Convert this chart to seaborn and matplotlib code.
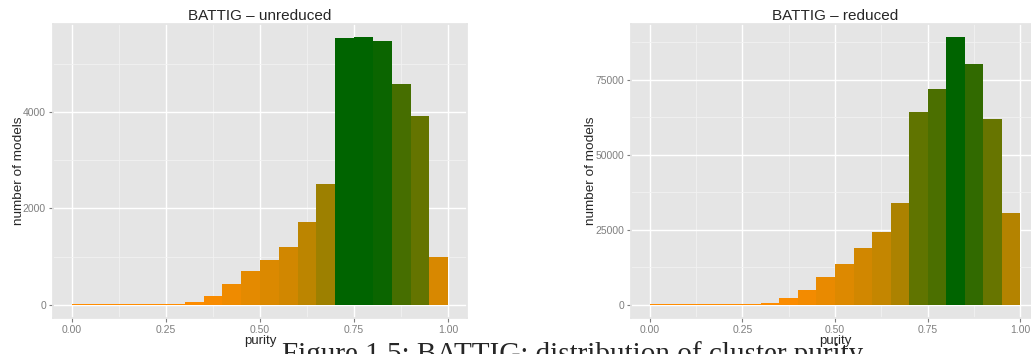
import numpy as np
import pandas as pd
import matplotlib
matplotlib.use('Agg')
import matplotlib.pyplot as plt
from matplotlib.colors import ListedColormap, Normalize, to_rgb
from matplotlib.ticker import MultipleLocator
import seaborn as sns

# histogram bins of purity (width 0.05) and counts
bin_left = [0.00, 0.05, 0.10, 0.15, 0.20, 0.25, 0.30, 0.35, 0.40, 0.45,
            0.50, 0.55, 0.60, 0.65, 0.70, 0.75, 0.80, 0.85, 0.90, 0.95]
unreduced = [3, 3, 4, 5, 6, 8, 60, 190, 420, 690,
             920, 1190, 1715, 2500, 5540, 5560, 5480, 4600, 3915, 1000]
reduced = [50, 60, 80, 100, 150, 250, 700, 2100, 5000, 9300,
           13700, 19000, 24100, 34000, 64100, 71800, 89100, 80100, 61750, 30700]
titles = ['BATTIG \u2013 unreduced', 'BATTIG \u2013 reduced']
y_major = [2000, 25000]
caption = 'Figure 1.5: BATTIG: distribution of cluster purity'


# gradient from darkorange to darkgreen, interpolated in Lab space like ggplot
def rgb_to_lab(rgb):
    c = np.array(rgb)
    c = np.where(c > 0.04045, ((c + 0.055) / 1.055) ** 2.4, c / 12.92)
    m = np.array([[0.4124, 0.3576, 0.1805],
                  [0.2126, 0.7152, 0.0722],
                  [0.0193, 0.1192, 0.9505]])
    xyz = m @ c / np.array([0.95047, 1.0, 1.08883])
    f = np.where(xyz > 0.008856, np.cbrt(xyz), 7.787 * xyz + 16 / 116)
    return np.array([116 * f[1] - 16, 500 * (f[0] - f[1]), 200 * (f[1] - f[2])])


def lab_to_rgb(lab):
    fy = (lab[0] + 16) / 116
    f = np.array([fy + lab[1] / 500, fy, fy - lab[2] / 200])
    xyz = np.where(f ** 3 > 0.008856, f ** 3, (f - 16 / 116) / 7.787)
    xyz = xyz * np.array([0.95047, 1.0, 1.08883])
    m = np.array([[3.2406, -1.5372, -0.4986],
                  [-0.9689, 1.8758, 0.0415],
                  [0.0557, -0.2040, 1.0570]])
    c = m @ xyz
    c = np.where(c > 0.0031308, 1.055 * np.clip(c, 0, None) ** (1 / 2.4) - 0.055, 12.92 * c)
    return np.clip(c, 0, 1)


lo, hi = rgb_to_lab(to_rgb('#FF8C00')), rgb_to_lab(to_rgb('#006400'))
cmap = ListedColormap([lab_to_rgb(lo + (hi - lo) * t) for t in np.linspace(0, 1, 256)])

sns.set_theme(style='darkgrid', rc={
    'axes.facecolor': '#E5E5E5', 'grid.color': 'white', 'grid.linewidth': 1.0,
    'axes.edgecolor': '#E5E5E5'})
plt.rcParams['font.family'] = ['Liberation Sans', 'DejaVu Sans']

fig = plt.figure(figsize=(10.31, 3.54), dpi=100)
ax1 = fig.add_axes([53 / 1031, 36 / 354, 414 / 1031, 294 / 354])
ax2 = fig.add_axes([631 / 1031, 36 / 354, 408 / 1031, 294 / 354])

for ax, counts, title, step in zip([ax1, ax2], [unreduced, reduced], titles, y_major):
    df = pd.DataFrame({'purity': np.array(bin_left) + 0.025, 'n': counts})
    sns.histplot(data=df, x='purity', weights='n', bins=20, binrange=(0, 1),
                 ax=ax, linewidth=0, alpha=1)
    norm = Normalize(min(counts), max(counts))
    for p in ax.patches:
        p.set_facecolor(cmap(norm(p.get_height())))
        p.set_edgecolor('none')
    top = max(counts)
    ax.set_xlim(-0.05, 1.05)
    ax.set_ylim(-0.05 * top, 1.05 * top)
    ax.xaxis.set_major_locator(MultipleLocator(0.25))
    ax.xaxis.set_minor_locator(MultipleLocator(0.125))
    ax.yaxis.set_major_locator(MultipleLocator(step))
    ax.yaxis.set_minor_locator(MultipleLocator(step / 2))
    ax.xaxis.set_major_formatter(plt.FuncFormatter(lambda v, _: f'{v:.2f}'))
    ax.yaxis.set_major_formatter(plt.FuncFormatter(lambda v, _: f'{int(v)}'))
    ax.grid(which='major', color='white', linewidth=1.0)
    ax.grid(which='minor', color='#F2F2F2', linewidth=0.6)
    ax.set_axisbelow(True)
    ax.tick_params(which='major', length=3, width=0.8, color='#7F7F7F',
                   labelsize=7.5, labelcolor='#7F7F7F', pad=2, bottom=True, left=True)
    ax.tick_params(which='minor', length=0)
    ax.set_title(title, fontsize=11, pad=3)
    ax.set_xlabel('purity', fontsize=9.5, labelpad=0)
    ax.set_ylabel('number of models', fontsize=9.7, labelpad=-1.5)

fig.text(282 / 1031, 1 - 362 / 354, caption, family='Liberation Serif',
         fontsize=21, ha='left', va='baseline')

fig.savefig('out.png', dpi=100)
